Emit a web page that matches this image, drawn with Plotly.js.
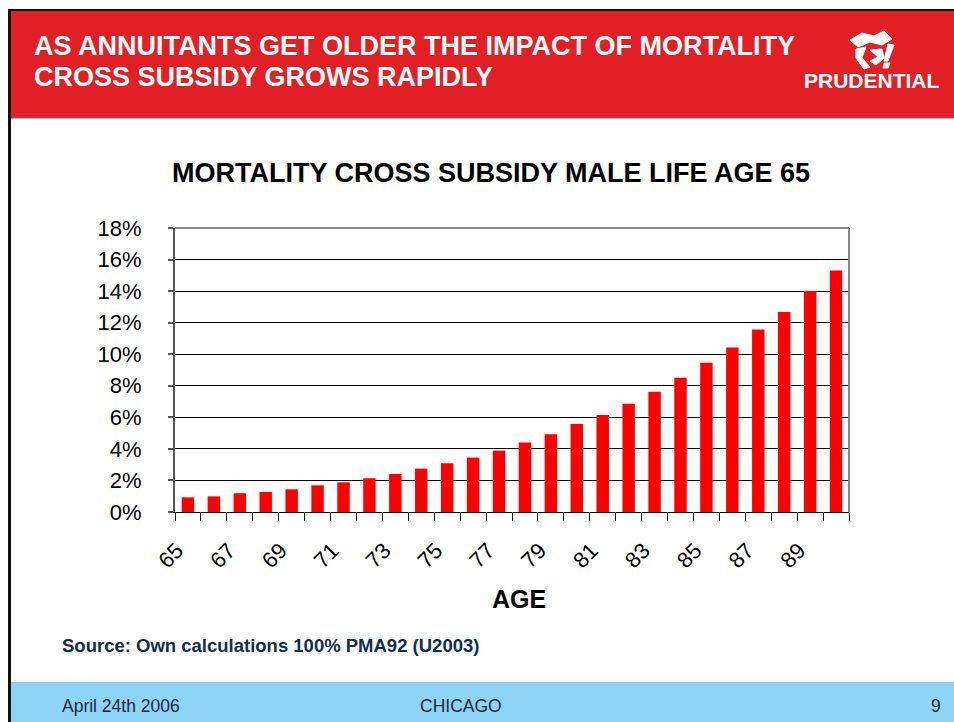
<!DOCTYPE html>
<html><head><meta charset="utf-8">
<script src="https://cdn.plot.ly/plotly-3.0.1.min.js"></script>
<style>html,body{margin:0;padding:0;background:#fff;overflow:hidden;} #chart{width:954px;height:722px;}</style>
</head><body><div id="chart"></div>
<script>
// ---- data ----
const ages = [65,66,67,68,69,70,71,72,73,74,75,76,77,78,79,80,81,82,83,84,85,86,87,88,89,90];
const subsidyPct = [0.93,0.99,1.19,1.27,1.44,1.69,1.88,2.14,2.41,2.75,3.09,3.45,3.89,4.40,4.93,5.57,6.14,6.86,7.62,8.51,9.46,10.43,11.56,12.68,14.01,15.30];
const tickAges = [65,67,69,71,73,75,77,79,81,83,85,87,89];
const tickLabels = tickAges.map(String);
const yTicks = [0,2,4,6,8,10,12,14,16,18];
const yTickLabels = yTicks.map(v => v + '%');
const headerLines = ["AS ANNUITANTS GET OLDER THE IMPACT OF MORTALITY", "CROSS SUBSIDY GROWS RAPIDLY"];
const chartTitle = "MORTALITY CROSS SUBSIDY MALE LIFE AGE 65";
const xTitle = "AGE";
const sourceText = "Source: Own calculations 100% PMA92 (U2003)";
const footerLeft = "April 24th 2006", footerMid = "CHICAGO", footerRight = "9";
const logoText = "PRUDENTIAL";

// ---- layout helpers (pixel -> paper) ----
const W=954,H=722,L=175,R=849,T=228,B=512;
const px = x => (x-L)/(R-L);
const py = y => (B-y)/(B-T);
const F = "Liberation Sans, Arial, sans-serif";

const trace = {
  type:'bar', x: ages, y: subsidyPct,
  marker:{color:'#FF0000', line:{width:0}},
  hoverinfo:'x+y'
};

function rect(x0,y0,x1,y1,fill,layer){
  return {type:'rect',xref:'paper',yref:'paper',x0:px(x0),x1:px(x1),y0:py(y0),y1:py(y1),
    fillcolor:fill,line:{width:0},layer:layer||'below'};
}
function line(x0,y0,x1,y1,color,w){
  return {type:'line',xref:'paper',yref:'paper',x0:px(x0),x1:px(x1),y0:py(y0),y1:py(y1),
    line:{color:color,width:w},layer:'above'};
}
function txt(text,x,y,size,color,bold,anchor){
  return {text: bold?('<b>'+text+'</b>'):text, xref:'paper',yref:'paper',x:px(x),y:py(y),
    xanchor:anchor||'left',yanchor:'middle',showarrow:false,
    font:{family:F,size:size,color:color}};
}

const shapes = [
  rect(9,9,954,118,'#E31F26'),
  rect(8,9,954,11,'#111111'),
  rect(8,9,11,722,'#111111'),
  rect(11,682,954,722,'#8DD4F5'),
  line(11,118,954,118,'#5a6d86',1),
  line(L,T,R,T,'#8a8a8a',2),
  line(R,T,R,B,'#8a8a8a',2)
];

const annotations = [
  txt(headerLines[0],32,46,27,'#ffffff',true),
  txt(headerLines[1],32,77,27,'#ffffff',true),
  txt(logoText,872,81,21,'#ffffff',true,'center'),
  txt(chartTitle,491,173,27,'#000000',true,'center'),
  txt(xTitle,519,599,25,'#000000',true,'center'),
  txt(sourceText,60,645,18.5,'#0f2f4f',true),
  txt(footerLeft,60,706,17.5,'#1b2940'),
  txt(footerMid,461,706,17.5,'#1b2940',false,'center'),
  txt(footerRight,943,706,17.5,'#1b2940',false,'right')
];

// rough logo emblem (white strokes)
const emb = [
  'M850,40 L862,33 L874,36 L884,31 L892,39 L882,45 L870,42 L858,47 Z',
  'M856,49 L866,47 L862,58 L870,67 L864,69 L856,58 Z',
  'M870,50 L882,49 L884,58 L876,65 L870,61 L878,57 Z',
  'M888,44 L894,45 L888,61 L884,61 Z',
  'M884,63 L890,63 L888,68 L883,68 Z'
];
emb.forEach(p=>{
  const path = p.replace(/([ML])(\d+),(\d+)/g,(m,c,a,b)=>c+px(+a)+','+py(+b));
  shapes.push({type:'path',xref:'paper',yref:'paper',path:path,fillcolor:'#ffffff',line:{color:'#ffffff',width:1},layer:'above'});
});

const layout = {
  width:W,height:H,
  margin:{l:L,r:W-R,t:T,b:H-B,pad:0},
  paper_bgcolor:'#ffffff',plot_bgcolor:'#ffffff',
  showlegend:false,
  bargap:0.52,
  font:{family:F,color:'#000'},
  xaxis:{
    type:'linear',range:[64.5,90.5],
    tickmode:'array',tickvals:tickAges,ticktext:tickLabels,
    tickangle:-45,ticks:'',
    tickfont:{family:F,size:22,color:'#000'},
    ticklabelshift:-11,ticklabelstandoff:16,
    showgrid:false,zeroline:false,
    showline:true,linecolor:'#000',linewidth:1,
    minor:{tickmode:'linear',tick0:64.5,dtick:1,ticks:'outside',ticklen:8,tickcolor:'#000',tickwidth:1,showgrid:false},
    fixedrange:true
  },
  yaxis:{
    range:[0,18],tickmode:'array',tickvals:yTicks,ticktext:yTickLabels,
    ticks:'outside',ticklen:5,tickcolor:'#555',tickwidth:2,
    tickfont:{family:F,size:22,color:'#000'},
    ticklabelstandoff:22,
    showgrid:true,gridcolor:'#000',gridwidth:1,
    zeroline:false,showline:true,linecolor:'#555',linewidth:2,
    fixedrange:true
  },
  shapes:shapes,
  annotations:annotations
};

Plotly.newPlot('chart',[trace],layout,{displayModeBar:false,staticPlot:true});
</script>
</body></html>
